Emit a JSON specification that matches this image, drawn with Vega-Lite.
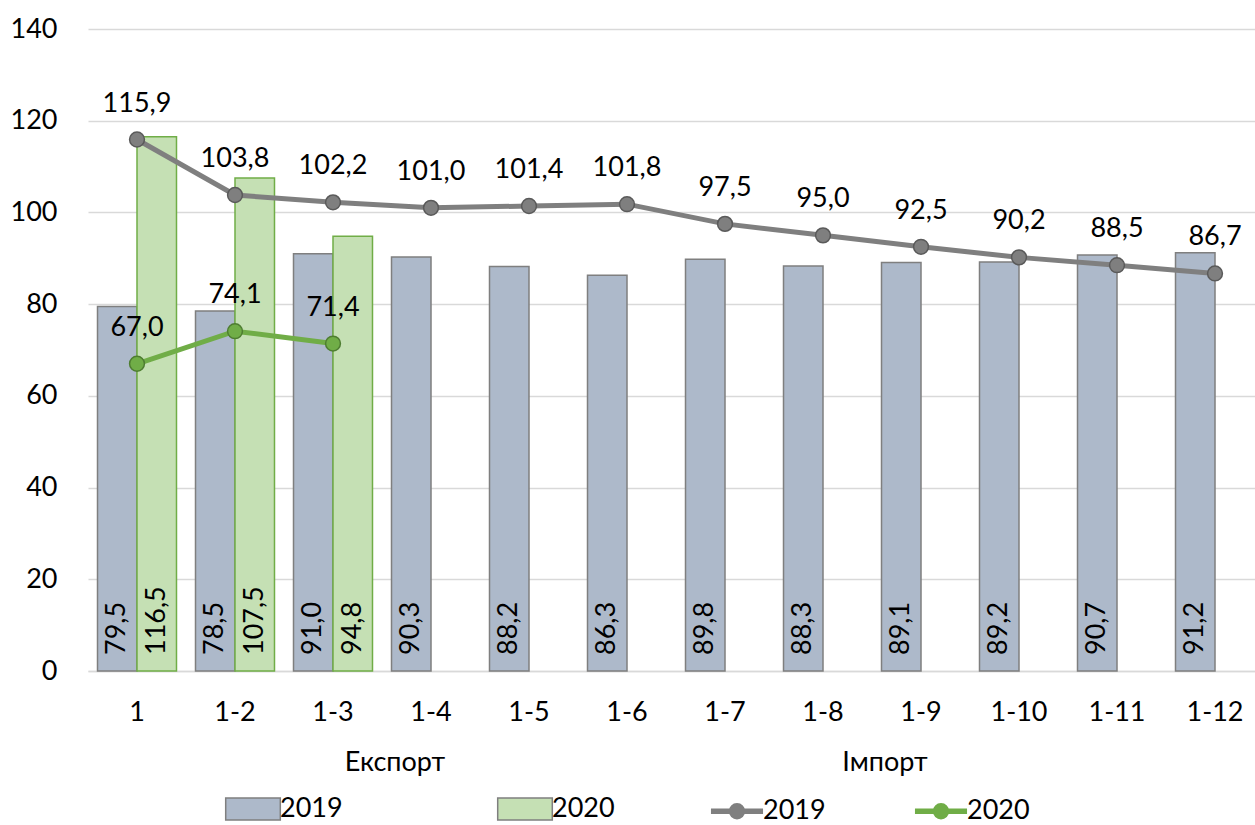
{
  "$schema": "https://vega.github.io/schema/vega-lite/v6.json",
  "width": 1167,
  "height": 642,
  "autosize": "none",
  "padding": {"left": 88, "top": 29, "right": 0, "bottom": 154},
  "background": "#ffffff",
  "data": {
    "values": [
      {"m": 1, "series": "Експорт 2019", "year": "2019", "kind": "bar", "value": 79.5},
      {"m": 2, "series": "Експорт 2019", "year": "2019", "kind": "bar", "value": 78.5},
      {"m": 3, "series": "Експорт 2019", "year": "2019", "kind": "bar", "value": 91.0},
      {"m": 4, "series": "Експорт 2019", "year": "2019", "kind": "bar", "value": 90.3},
      {"m": 5, "series": "Експорт 2019", "year": "2019", "kind": "bar", "value": 88.2},
      {"m": 6, "series": "Експорт 2019", "year": "2019", "kind": "bar", "value": 86.3},
      {"m": 7, "series": "Експорт 2019", "year": "2019", "kind": "bar", "value": 89.8},
      {"m": 8, "series": "Експорт 2019", "year": "2019", "kind": "bar", "value": 88.3},
      {"m": 9, "series": "Експорт 2019", "year": "2019", "kind": "bar", "value": 89.1},
      {"m": 10, "series": "Експорт 2019", "year": "2019", "kind": "bar", "value": 89.2},
      {"m": 11, "series": "Експорт 2019", "year": "2019", "kind": "bar", "value": 90.7},
      {"m": 12, "series": "Експорт 2019", "year": "2019", "kind": "bar", "value": 91.2},
      {"m": 1, "series": "Експорт 2020", "year": "2020", "kind": "bar", "value": 116.5},
      {"m": 2, "series": "Експорт 2020", "year": "2020", "kind": "bar", "value": 107.5},
      {"m": 3, "series": "Експорт 2020", "year": "2020", "kind": "bar", "value": 94.8},
      {"m": 1, "series": "Імпорт 2019", "year": "2019", "kind": "line", "value": 115.9},
      {"m": 2, "series": "Імпорт 2019", "year": "2019", "kind": "line", "value": 103.8},
      {"m": 3, "series": "Імпорт 2019", "year": "2019", "kind": "line", "value": 102.2},
      {"m": 4, "series": "Імпорт 2019", "year": "2019", "kind": "line", "value": 101.0},
      {"m": 5, "series": "Імпорт 2019", "year": "2019", "kind": "line", "value": 101.4},
      {"m": 6, "series": "Імпорт 2019", "year": "2019", "kind": "line", "value": 101.8},
      {"m": 7, "series": "Імпорт 2019", "year": "2019", "kind": "line", "value": 97.5},
      {"m": 8, "series": "Імпорт 2019", "year": "2019", "kind": "line", "value": 95.0},
      {"m": 9, "series": "Імпорт 2019", "year": "2019", "kind": "line", "value": 92.5},
      {"m": 10, "series": "Імпорт 2019", "year": "2019", "kind": "line", "value": 90.2},
      {"m": 11, "series": "Імпорт 2019", "year": "2019", "kind": "line", "value": 88.5},
      {"m": 12, "series": "Імпорт 2019", "year": "2019", "kind": "line", "value": 86.7},
      {"m": 1, "series": "Імпорт 2020", "year": "2020", "kind": "line", "value": 67.0},
      {"m": 2, "series": "Імпорт 2020", "year": "2020", "kind": "line", "value": 74.1},
      {"m": 3, "series": "Імпорт 2020", "year": "2020", "kind": "line", "value": 71.4}
    ]
  },
  "layer": [
    {
      "transform": [{"filter": "datum.kind == 'bar'"}],
      "mark": {"type": "bar", "strokeWidth": 1.5},
      "encoding": {
        "x": {"field": "m", "type": "ordinal", "title": null,
          "scale": {"range": [0, 1176], "paddingInner": 0.194, "paddingOuter": 0.097},
          "axis": {"orient": "bottom", "labelExpr": "datum.value == 1 ? '1' : '1-' + datum.value", "labelAngle": 0, "labelPadding": 28, "domain": true, "domainColor": "#d9d9d9", "domainWidth": 1.5, "ticks": false, "grid": false}},
        "xOffset": {"field": "year", "type": "nominal", "scale": {"domain": ["2019", "2020"], "paddingInner": 0}},
        "y": {"field": "value", "type": "quantitative", "title": null,
          "scale": {"domain": [0, 140], "nice": false},
          "axis": {"values": [0, 20, 40, 60, 80, 100, 120, 140], "grid": true, "gridColor": "#d9d9d9", "gridWidth": 1.5, "domain": false, "ticks": false, "labelPadding": 31}},
        "fill": {"field": "series", "type": "nominal",
          "scale": {"domain": ["Експорт 2019", "Експорт 2020"], "range": ["#adb9ca", "#c5e0b4"]},
          "legend": {
            "orient": "none", "legendX": 143, "legendY": 758, "direction": "horizontal", "columns": 2, "columnPadding": 151,
            "symbolSize": 1764, "symbolType": "M-1.3,-0.52H1.3V0.52H-1.3Z", "symbolStrokeWidth": 1.5, "symbolStrokeColor": "#7f7f7f", "symbolOpacity": 1,
            "labelOffset": 5, "labelFontSize": 27, "labelFont": "Lato", "labelColor": "#000000",
            "title": null, "padding": 0, "labelExpr": "slice(datum.label, -4)"
          }},
        "stroke": {"condition": {"test": "datum.year == '2019'", "value": "#7f7f7f"}, "value": "#70ad47"}
      }
    },
    {
      "transform": [{"filter": "datum.kind == 'bar'"}],
      "mark": {"type": "text", "angle": 270, "align": "left", "baseline": "middle", "dx": 16, "fontSize": 27, "font": "Lato", "color": "#000000"},
      "encoding": {
        "x": {"field": "m", "type": "ordinal", "axis": null},
        "xOffset": {"field": "year", "type": "nominal"},
        "y": {"datum": 0, "type": "quantitative",
          "axis": {"values": [0, 20, 40, 60, 80, 100, 120, 140], "grid": true, "gridColor": "#d9d9d9", "gridWidth": 1.5, "domain": false, "ticks": false, "labelPadding": 31}},
        "text": {"field": "value", "type": "quantitative", "format": ".1f"}
      }
    },
    {
      "transform": [{"filter": "datum.kind == 'line'"}],
      "mark": {"type": "line", "strokeWidth": 5},
      "encoding": {
        "x": {"field": "m", "type": "ordinal", "title": null,
          "axis": {"orient": "bottom", "labelOffset": -36, "labelExpr": "datum.value == 4 ? 'Експорт' : datum.value == 9 ? 'Імпорт' : ''", "labelAngle": 0, "labelPadding": 78, "labelOverlap": false, "domain": false, "ticks": false, "grid": false}},
        "y": {"field": "value", "type": "quantitative", "title": null,
          "axis": {"values": [0, 20, 40, 60, 80, 100, 120, 140], "grid": true, "gridColor": "#d9d9d9", "gridWidth": 1.5, "domain": false, "ticks": false, "labelPadding": 31}},
        "stroke": {"field": "series", "type": "nominal",
          "scale": {"domain": ["Імпорт 2019", "Імпорт 2020"], "range": ["#7f7f7f", "#70ad47"]},
          "legend": {
            "orient": "none", "legendX": 625, "legendY": 758, "direction": "horizontal", "columns": 2, "columnPadding": 77,
            "symbolSize": 1764, "symbolType": "M-1.24,0H1.24M0.26,0A0.26,0.26,0,1,1,-0.26,0A0.26,0.26,0,1,1,0.26,0M0.11,0A0.11,0.11,0,1,1,-0.11,0A0.11,0.11,0,1,1,0.11,0",
            "symbolStrokeWidth": 5.5, "symbolOpacity": 1,
            "labelOffset": 2, "labelFontSize": 27, "labelFont": "Lato", "labelColor": "#000000",
            "title": null, "padding": 0, "labelExpr": "slice(datum.label, -4)"
          }}
      }
    },
    {
      "transform": [{"filter": "datum.kind == 'line'"}],
      "mark": {"type": "point", "filled": true, "size": 220, "opacity": 1, "strokeWidth": 1.5},
      "encoding": {
        "x": {"field": "m", "type": "ordinal", "axis": null},
        "y": {"field": "value", "type": "quantitative", "title": null,
          "axis": {"values": [0, 20, 40, 60, 80, 100, 120, 140], "grid": true, "gridColor": "#d9d9d9", "gridWidth": 1.5, "domain": false, "ticks": false, "labelPadding": 31}},
        "fill": {"condition": {"test": "datum.year == '2019'", "value": "#7f7f7f"}, "value": "#70ad47"},
        "stroke": {"condition": {"test": "datum.year == '2019'", "value": "#5a5a5a"}, "value": "#4e7d31"}
      }
    },
    {
      "transform": [{"filter": "datum.kind == 'line'"}],
      "mark": {"type": "text", "align": "center", "baseline": "middle", "dy": -36, "fontSize": 27, "font": "Lato", "color": "#000000"},
      "encoding": {
        "x": {"field": "m", "type": "ordinal", "axis": null},
        "y": {"field": "value", "type": "quantitative", "title": null,
          "axis": {"values": [0, 20, 40, 60, 80, 100, 120, 140], "grid": true, "gridColor": "#d9d9d9", "gridWidth": 1.5, "domain": false, "ticks": false, "labelPadding": 31}},
        "text": {"field": "value", "type": "quantitative", "format": ".1f"}
      }
    }
  ],
  "resolve": {"axis": {"x": "independent"}},
  "config": {
    "font": "Lato",
    "locale": {"number": {"decimal": ",", "thousands": " ", "grouping": [3], "currency": ["", ""]}},
    "view": {"stroke": null},
    "axis": {"labelFont": "Lato", "labelFontSize": 27, "labelColor": "#000000", "ticks": false}
  }
}
